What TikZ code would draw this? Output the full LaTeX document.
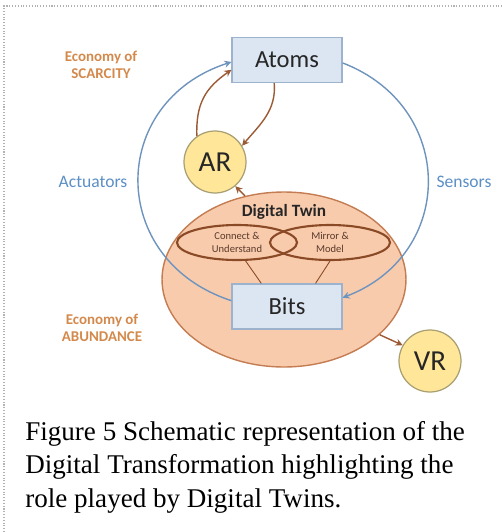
\documentclass[tikz,border=0pt]{standalone}
\usepackage{fontspec}
\setmainfont{Carlito}
\newfontfamily\capfont{Liberation Serif}
\usetikzlibrary{arrows.meta,shapes.geometric}
\definecolor{boxblue}{HTML}{DCE6F2}
\definecolor{boxedge}{HTML}{9DB2CC}
\definecolor{discyellow}{HTML}{FFE699}
\definecolor{discedge}{HTML}{A89F72}
\definecolor{twinfill}{HTML}{F8CBAD}
\definecolor{twinedge}{HTML}{C47D52}
\definecolor{lobeedge}{HTML}{8A4A26}
\definecolor{lobetext}{HTML}{5A3A2A}
\definecolor{arrowbrown}{HTML}{9C5A34}
\definecolor{loopblue}{HTML}{6E94BE}
\definecolor{sideblue}{HTML}{5B8FC5}
\definecolor{econorange}{HTML}{D4894C}
\definecolor{ink}{HTML}{262626}
\tikzset{
	box/.style={rectangle,draw=boxedge,fill=boxblue,line width=0.7pt,minimum width=2.2cm,minimum height=0.9cm,inner sep=0,text=ink,font=\fontsize{14}{16}\selectfont},
	disc/.style={circle,draw=discedge,fill=discyellow,line width=0.7pt,minimum size=1.24cm,inner sep=0,text=ink,font=\fontsize{16.5}{19}\selectfont},
	twin/.style={ellipse,draw=twinedge,fill=twinfill,line width=0.8pt,minimum width=4.88cm,minimum height=3.5cm,inner sep=0},
	lobe/.style={ellipse,draw=lobeedge,line width=1.2pt,minimum width=2.4cm,minimum height=0.7cm,inner sep=0,align=center,text=lobetext,font=\fontsize{6}{7}\selectfont},
	loopedge/.style={-{Stealth[width=4pt,length=4pt]},draw=loopblue,line width=0.8pt},
	diredge/.style={-{Stealth[width=4pt,length=4pt]},draw=arrowbrown,line width=0.8pt},
	link/.style={draw=lobeedge,line width=0.5pt},
	econ/.style={align=center,text=econorange,font=\bfseries\fontsize{8.5}{9.7}\selectfont},
	side/.style={text=sideblue,font=\fontsize{10}{12}\selectfont},
	caption/.style={align=left,inner sep=0,text=black,font=\capfont\fontsize{15.4}{19}\selectfont}
}
\begin{document}
\begin{tikzpicture}[x=0.02cm,y=0.02cm]
	\useasboundingbox (0,0) rectangle (502,-532);
	\draw[gray!60,densely dotted,line width=0.6pt] (4,-532) -- (4,-6) -- (502,-6);
	
	%%% digital twin
	\node[twin] (dt) at (284,-279.5) {};
	\node[font=\bfseries\fontsize{9.8}{12}\selectfont,text=ink] (dtlabel) at (284,-212) {Digital Twin};
	\node[lobe] (lft) at (237,-242.5) {Connect \&\\Understand};
	\node[lobe] (rgt) at (330,-242.5) {Mirror \&\\Model};
	\node[box] (bits) at (287,-306.5) {Bits};
	\draw[link] (lft.-65) -- (bits.138);
	\draw[link] (rgt.south) -- (bits.39);
	
	%%% physical side
	\node[box] (atoms) at (287,-60) {Atoms};
	\node[disc] (ar) at (215,-162) {AR};
	\node[disc] (vr) at (430,-361) {VR};
	
	%%% labels
	\node[econ] (scarcity) at (101,-65) {Economy of\\SCARCITY};
	\node[econ] (abundance) at (102,-328) {Economy of\\ABUNDANCE};
	\node[side] (act) at (93,-182) {Actuators};
	\node[side] (sens) at (464,-182) {Sensors};
	
	%%% loop
	\draw[loopedge] (bits.174) to[out=162,in=198,looseness=1.4] (atoms.182);
	\draw[loopedge] (atoms.357) to[out=-21,in=21,looseness=1.33] (bits.9);
	
	\draw[diredge] (ar.125) to[out=92,in=215,looseness=1.1] (atoms.190);
	\draw[diredge] (atoms.241) to[out=-85,in=50] (ar.31);
	\draw[diredge] (dt.115) -- (ar.-50);
	\draw[diredge] (dt.-30) -- (vr.150);
	
	\node[caption,anchor=north west] (cap) at (25,-421) {Figure 5 Schematic representation of the\\Digital Transformation highlighting the\\role played by Digital Twins.};
\end{tikzpicture}
\end{document}
